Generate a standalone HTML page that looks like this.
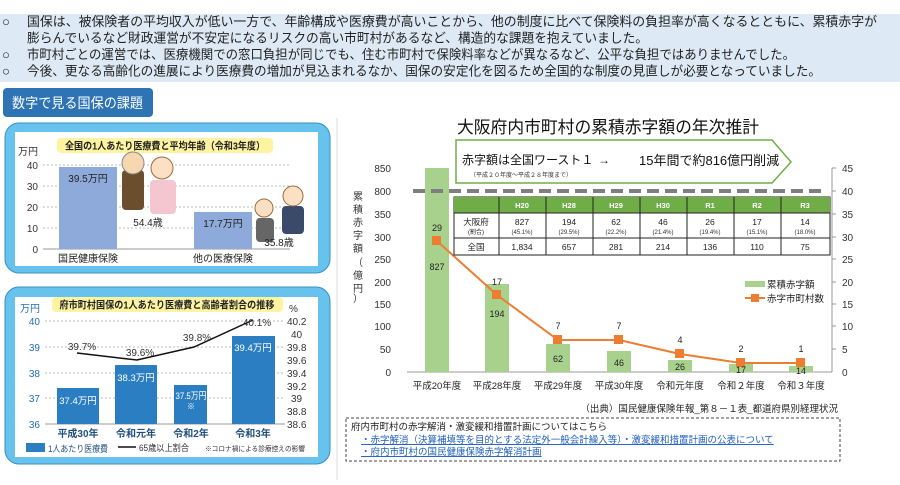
<!DOCTYPE html>
<html><head><meta charset="utf-8"><style>
body{margin:0;width:900px;height:480px;overflow:hidden;background:#fff;font-family:"Liberation Sans","Noto Sans CJK JP",sans-serif}
svg text{font-family:"Liberation Sans","Noto Sans CJK JP",sans-serif}
</style></head><body>
<svg width="900" height="480" viewBox="0 0 900 480" xmlns="http://www.w3.org/2000/svg">
<rect x="0" y="14" width="900" height="68" fill="#dde9f5"/>
<g font-size="13" fill="#222">
<text x="2" y="26">○</text><text x="27" y="26" textLength="850" lengthAdjust="spacingAndGlyphs">国保は、被保険者の平均収入が低い一方で、年齢構成や医療費が高いことから、他の制度に比べて保険料の負担率が高くなるとともに、累積赤字が</text>
<text x="27" y="42.5" textLength="621" lengthAdjust="spacingAndGlyphs">膨らんでいるなど財政運営が不安定になるリスクの高い市町村があるなど、構造的な課題を抱えていました。</text>
<text x="2" y="59">○</text><text x="27" y="59" textLength="768" lengthAdjust="spacingAndGlyphs">市町村ごとの運営では、医療機関での窓口負担が同じでも、住む市町村で保険料率などが異なるなど、公平な負担ではありませんでした。</text>
<text x="2" y="75.5">○</text><text x="27" y="75.5" textLength="794" lengthAdjust="spacingAndGlyphs">今後、更なる高齢化の進展により医療費の増加が見込まれるなか、国保の安定化を図るため全国的な制度の見直しが必要となっていました。</text>
</g>
<rect x="3" y="88" width="150" height="29" rx="4" fill="#2e74b5"/>
<text x="12" y="108" font-size="14" fill="#fff" textLength="131" lengthAdjust="spacingAndGlyphs">数字で見る国保の課題</text>
<line x1="337" y1="118" x2="337" y2="480" stroke="#ddd"/>

<rect x="5" y="123" width="325" height="150" rx="14" fill="#67c3ee" stroke="#3a8fc0"/>
<rect x="15" y="132" width="303" height="134" fill="#fff"/>
<rect x="57" y="138" width="216" height="15" rx="4" fill="#fdf3a0"/>
<text x="165" y="149.5" font-size="10" font-weight="bold" text-anchor="middle" fill="#222" textLength="200" lengthAdjust="spacingAndGlyphs">全国の1人あたり医療費と平均年齢（令和3年度）</text>
<g font-size="10" fill="#333" text-anchor="end">
<text x="38" y="155">万円</text>
<text x="38" y="169">40</text><text x="38" y="190">30</text><text x="38" y="211">20</text><text x="38" y="232">10</text><text x="38" y="253">0</text>
</g>
<g stroke="#bbb" stroke-dasharray="2,2"><line x1="43" y1="165" x2="290" y2="165"/><line x1="43" y1="186" x2="290" y2="186"/><line x1="43" y1="207" x2="290" y2="207"/><line x1="43" y1="228" x2="290" y2="228"/></g>
<line x1="43" y1="249" x2="290" y2="249" stroke="#999"/>
<rect x="59" y="167" width="58" height="82" fill="#8eaadb"/>
<rect x="194" y="212" width="58" height="37" fill="#8eaadb"/>
<g>
<rect x="122" y="170" width="22" height="40" rx="4" fill="#6b4e2e"/><circle cx="133" cy="163" r="11" fill="#f6d7b0" stroke="#888"/>
<rect x="150" y="180" width="26" height="34" rx="4" fill="#f4c6cf"/><circle cx="162" cy="168" r="11" fill="#fbe0c4" stroke="#9a6b3c"/>
<rect x="256" y="218" width="18" height="24" rx="4" fill="#666"/><circle cx="264" cy="208" r="9" fill="#fbe0c4" stroke="#9a6b3c"/>
<rect x="282" y="206" width="22" height="28" rx="4" fill="#3b4a6b"/><circle cx="293" cy="196" r="10" fill="#fbe0c4" stroke="#9a6b3c"/>
</g>
<g font-size="10" fill="#222" text-anchor="middle">
<text x="88" y="182">39.5万円</text><text x="223" y="227">17.7万円</text>
<text x="148" y="226">54.4歳</text><text x="279" y="246">35.8歳</text>
<text x="88" y="262">国民健康保険</text><text x="223" y="262">他の医療保険</text>
</g>

<rect x="5" y="287" width="325" height="177" rx="14" fill="#67c3ee" stroke="#3a8fc0"/>
<rect x="15" y="297" width="303" height="160" fill="#fff"/>
<rect x="52" y="297" width="231" height="15" rx="4" fill="#fdf3a0"/>
<text x="167" y="308.5" font-size="10" font-weight="bold" text-anchor="middle" fill="#222" textLength="215" lengthAdjust="spacingAndGlyphs">府市町村国保の1人あたり医療費と高齢者割合の推移</text>
<g font-size="10" fill="#1f6fb5" text-anchor="end">
<text x="40" y="312">万円</text>
<text x="40" y="325">40</text><text x="40" y="351">39</text><text x="40" y="377">38</text><text x="40" y="402">37</text><text x="40" y="428">36</text>
</g>
<g font-size="10" fill="#333">
<text x="289" y="312">%</text>
<text x="287" y="325">40.2</text><text x="291" y="338">40</text><text x="287" y="351">39.8</text><text x="287" y="364">39.6</text><text x="287" y="377">39.4</text><text x="287" y="390">39.2</text><text x="291" y="402">39</text><text x="287" y="415">38.8</text><text x="287" y="428">38.6</text>
</g>
<g stroke="#bbb" stroke-dasharray="2,2"><line x1="45" y1="321" x2="285" y2="321"/><line x1="45" y1="347" x2="285" y2="347"/><line x1="45" y1="373" x2="285" y2="373"/><line x1="45" y1="398" x2="285" y2="398"/></g>
<line x1="45" y1="424" x2="285" y2="424" stroke="#999"/>
<g fill="#2b7ec1">
<rect x="57" y="388" width="42" height="36"/><rect x="115" y="365" width="42" height="59"/><rect x="174" y="385" width="33" height="39"/><rect x="232" y="336" width="43" height="88"/>
</g>
<g font-size="9.5" fill="#fff" text-anchor="middle">
<text x="78" y="404">37.4万円</text><text x="136" y="381">38.3万円</text><text x="191" y="399" textLength="31" lengthAdjust="spacingAndGlyphs">37.5万円</text><text x="191" y="409" font-size="8">※</text><text x="253" y="351">39.4万円</text>
</g>
<polyline points="77,353 137,360 194,347 253,320" fill="none" stroke="#111" stroke-width="1.5"/>
<g font-size="10" fill="#333" text-anchor="middle">
<text x="82" y="350">39.7%</text><text x="140" y="356">39.6%</text><text x="197" y="341">39.8%</text><text x="257" y="326">40.1%</text>
</g>
<g font-size="10" fill="#1f4f7f" text-anchor="middle" font-weight="bold">
<text x="78" y="437">平成30年</text><text x="136" y="437">令和元年</text><text x="191" y="437">令和2年</text><text x="253" y="437">令和3年</text>
</g>
<rect x="26" y="443" width="19" height="9" fill="#2b7ec1"/>
<text x="48" y="452" font-size="9" fill="#1f4f7f" textLength="60" lengthAdjust="spacingAndGlyphs">1人あたり医療費</text>
<line x1="118" y1="447" x2="136" y2="447" stroke="#111" stroke-width="1.5"/>
<text x="139" y="451" font-size="9" fill="#333" textLength="50" lengthAdjust="spacingAndGlyphs">65歳以上割合</text>
<text x="205" y="451" font-size="7" fill="#333" textLength="100" lengthAdjust="spacingAndGlyphs">※コロナ禍による診療控えの影響</text>

<text x="457" y="133" font-size="17" fill="#111" textLength="302" lengthAdjust="spacingAndGlyphs">大阪府内市町村の累積赤字額の年次推計</text>
<polygon points="456,140 772,140 791,162 772,183 456,183" fill="#fff" stroke="#70ad47" stroke-width="1.5"/>
<text x="462" y="164" font-size="12" fill="#111">赤字額は全国ワースト１</text>
<text x="598" y="164" font-size="12" fill="#111">→</text>
<text x="639" y="165" font-size="13" fill="#111">15年間で約816億円削減</text>
<text x="470" y="177" font-size="6" fill="#333">（平成２０年度～平成２８年度まで）</text>
<g font-size="10" fill="#333" text-anchor="end">
<text x="391" y="172">850</text><text x="391" y="195">800</text><text x="391" y="218">350</text><text x="391" y="241">300</text><text x="391" y="263">250</text><text x="391" y="286">200</text><text x="391" y="308">150</text><text x="391" y="330">100</text><text x="391" y="353">50</text><text x="391" y="376">0</text>
</g>
<g font-size="10" fill="#333">
<text x="842" y="172">45</text><text x="842" y="195">40</text><text x="842" y="218">35</text><text x="842" y="241">30</text><text x="842" y="263">25</text><text x="842" y="286">20</text><text x="842" y="308">15</text><text x="842" y="330">10</text><text x="842" y="353">5</text><text x="842" y="376">0</text>
</g>
<line x1="407" y1="372" x2="832" y2="372" stroke="#999"/>
<line x1="832" y1="168" x2="832" y2="372" stroke="#999"/>
<g stroke="#999"><line x1="832" y1="168" x2="836" y2="168"/><line x1="832" y1="191" x2="836" y2="191"/><line x1="832" y1="214" x2="836" y2="214"/><line x1="832" y1="237" x2="836" y2="237"/><line x1="832" y1="259" x2="836" y2="259"/><line x1="832" y1="282" x2="836" y2="282"/><line x1="832" y1="304" x2="836" y2="304"/><line x1="832" y1="326" x2="836" y2="326"/><line x1="832" y1="349" x2="836" y2="349"/></g>
<g font-size="10" fill="#333" text-anchor="middle">
<text x="358" y="200">累</text><text x="358" y="213">積</text><text x="358" y="226">赤</text><text x="358" y="239">字</text><text x="358" y="252">額</text><text x="358" y="266">（</text><text x="358" y="279">億</text><text x="358" y="292">円</text><text x="358" y="302">）</text>
</g>
<g fill="#a9d18e">
<rect x="425" y="168" width="24" height="204"/><rect x="485" y="284" width="24" height="88"/><rect x="546" y="344" width="24" height="28"/><rect x="607" y="351" width="24" height="21"/><rect x="668" y="360" width="24" height="12"/><rect x="729" y="364" width="24" height="8"/><rect x="789" y="366" width="24" height="6"/>
</g>
<line x1="413" y1="191" x2="822" y2="191" stroke="#7f7f7f" stroke-width="4" stroke-dasharray="12,6"/>
<polyline points="437,241 497,295 558,340 619,340 680,354 741,363 801,363" fill="none" stroke="#ed7d31" stroke-width="2"/>
<g fill="#ed7d31">
<rect x="432" y="236" width="9" height="9"/><rect x="492" y="290" width="9" height="9"/><rect x="553" y="335" width="9" height="9"/><rect x="614" y="335" width="9" height="9"/><rect x="675" y="349" width="9" height="9"/><rect x="736" y="358" width="9" height="9"/><rect x="796" y="358" width="9" height="9"/>
</g>
<g font-size="9" fill="#222" text-anchor="middle">
<text x="437" y="231">29</text><text x="437" y="270">827</text>
<text x="497" y="285">17</text><text x="497" y="317">194</text>
<text x="558" y="329">7</text><text x="558" y="362">62</text>
<text x="619" y="329">7</text><text x="619" y="366">46</text>
<text x="680" y="343">4</text><text x="680" y="370">26</text>
<text x="741" y="352">2</text><text x="741" y="373">17</text>
<text x="801" y="352">1</text><text x="801" y="374">14</text>
</g>
<g font-size="9.5" fill="#222" text-anchor="middle">
<text x="437" y="389">平成20年度</text><text x="497" y="389">平成28年度</text><text x="558" y="389">平成29年度</text><text x="619" y="389">平成30年度</text><text x="680" y="389">令和元年度</text><text x="741" y="389">令和２年度</text><text x="801" y="389">令和３年度</text>
</g>
<rect x="745" y="281" width="20" height="6" fill="#a9d18e"/>
<text x="767" y="288" font-size="9.5" fill="#222">累積赤字額</text>
<line x1="745" y1="298" x2="765" y2="298" stroke="#ed7d31" stroke-width="2"/><rect x="751" y="294" width="8" height="8" fill="#ed7d31"/>
<text x="767" y="302" font-size="9.5" fill="#222">赤字市町村数</text>
<rect x="454" y="197" width="376" height="58" fill="#fff" stroke="#222"/>
<rect x="454" y="197" width="376" height="16" fill="#70ad47"/>
<g stroke="#222"><line x1="454" y1="213" x2="830" y2="213"/><line x1="454" y1="238" x2="830" y2="238"/>
<line x1="499" y1="197" x2="499" y2="255"/><line x1="546" y1="197" x2="546" y2="255"/><line x1="593" y1="197" x2="593" y2="255"/><line x1="640" y1="197" x2="640" y2="255"/><line x1="687" y1="197" x2="687" y2="255"/><line x1="734" y1="197" x2="734" y2="255"/><line x1="781" y1="197" x2="781" y2="255"/></g>
<g font-size="7.5" fill="#fff" font-weight="bold" text-anchor="middle">
<text x="522" y="208">H20</text><text x="569" y="208">H28</text><text x="616" y="208">H29</text><text x="663" y="208">H30</text><text x="710" y="208">R1</text><text x="757" y="208">R2</text><text x="805" y="208">R3</text>
</g>
<g font-size="8.5" fill="#222" text-anchor="middle">
<text x="476" y="225">大阪府</text><text x="476" y="234" font-size="6">(割合)</text>
<text x="522" y="225">827</text><text x="569" y="225">194</text><text x="616" y="225">62</text><text x="663" y="225">46</text><text x="710" y="225">26</text><text x="757" y="225">17</text><text x="805" y="225">14</text>
</g>
<g font-size="6" fill="#333" text-anchor="middle">
<text x="522" y="234">(45.1%)</text><text x="569" y="234">(29.5%)</text><text x="616" y="234">(22.2%)</text><text x="663" y="234">(21.4%)</text><text x="710" y="234">(19.4%)</text><text x="757" y="234">(15.1%)</text><text x="805" y="234">(18.0%)</text>
</g>
<g font-size="8.5" fill="#222" text-anchor="middle">
<text x="476" y="250">全国</text><text x="522" y="250">1,834</text><text x="569" y="250">657</text><text x="616" y="250">281</text><text x="663" y="250">214</text><text x="710" y="250">136</text><text x="757" y="250">110</text><text x="805" y="250">75</text>
</g>
<text x="838" y="412" font-size="9.5" fill="#222" text-anchor="end">（出典）国民健康保険年報_第８－１表_都道府県別経理状況</text>
<rect x="346" y="418" width="494" height="43" fill="none" stroke="#444" stroke-dasharray="3,2"/>
<text x="351" y="430" font-size="9.5" fill="#222">府内市町村の赤字解消・激変緩和措置計画についてはこちら</text>
<text x="361" y="443" font-size="9.5" fill="#1f5fbf" text-decoration="underline">・赤字解消（決算補填等を目的とする法定外一般会計繰入等）・激変緩和措置計画の公表について</text>
<text x="361" y="455" font-size="9.5" fill="#1f5fbf" text-decoration="underline">・府内市町村の国民健康保険赤字解消計画</text>
</svg>
</body></html>
